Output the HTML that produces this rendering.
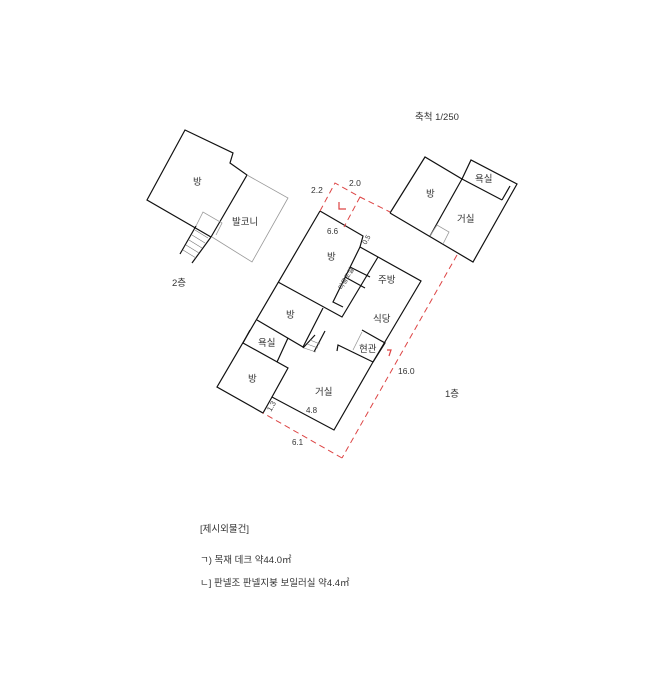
<!DOCTYPE html>
<html><head><meta charset="utf-8"><style>
html,body{margin:0;padding:0;background:#fff;}
svg{display:block;}
text{font-family:"Liberation Sans","Noto Sans CJK KR",sans-serif;fill:#333;}
</style></head><body>
<svg width="663" height="700" viewBox="0 0 663 700" xmlns="http://www.w3.org/2000/svg">
<g fill="none" stroke="#111" stroke-width="1.2">
<!-- 2F building -->
<polyline points="211,237 147,200 185,130 233,153 230,163 247,175 211,237"/>
<polyline points="247,175 288,198 252,262 212,237" stroke="#999" stroke-width="0.8"/>
<polyline points="196,226 203,212 222,223 216,235" stroke="#999" stroke-width="0.8"/>
<line x1="196" y1="226" x2="180" y2="254"/>
<line x1="211" y1="237" x2="192" y2="263"/>
<g stroke-width="0.6" stroke="#777">
<line x1="195" y1="230" x2="208" y2="238"/><line x1="192" y1="235" x2="205" y2="243"/><line x1="189" y1="240" x2="202" y2="248"/><line x1="186" y1="245" x2="199" y2="253"/><line x1="183" y1="250" x2="196" y2="258"/>
</g>
<!-- top right building -->
<polyline points="390,213 425,157 462,179 471,160 517,184 473,262 390,213"/>
<line x1="462" y1="179" x2="430" y2="236"/>
<line x1="462" y1="179" x2="502" y2="200"/>
<line x1="502" y1="200" x2="510" y2="186"/>
<polyline points="430,236 437,225 449,232 443,244" stroke="#999" stroke-width="0.8"/>
<!-- main 1F -->
<polyline points="320,211 363,236 360,247 378,257 421,281 373,362 334,430 272,397 263,413 217,387 320,211"/>
<polyline points="378,257 342,317 278,282"/>
<polyline points="360,247 333,302 343,307"/>
<line x1="350" y1="267" x2="370" y2="277"/>
<line x1="345" y1="277" x2="365" y2="288"/>
<polyline points="323,308 303,347 257,320"/>
<polyline points="243,343 288,368 272,397"/>
<line x1="243" y1="343" x2="250" y2="330"/>
<line x1="288" y1="338" x2="277" y2="362"/>
<polyline points="337,351 338,345 373,362"/>
<polyline points="362,330 385,343 373,362"/>
<line x1="362" y1="332" x2="353" y2="350" stroke="#999" stroke-width="0.8"/>
<!-- stair middle -->
<line x1="325" y1="331" x2="314" y2="352"/>
<line x1="315" y1="335" x2="303" y2="348"/>
<g stroke-width="0.6" stroke="#777">
<line x1="310" y1="340" x2="320" y2="344"/><line x1="307" y1="344" x2="318" y2="348"/><line x1="304" y1="348" x2="316" y2="352"/>
</g>
</g>
<!-- red dashed -->
<g fill="none" stroke="#d44" stroke-width="1" stroke-dasharray="6,4">
<polyline points="320,211 335,183 360,197 390,212"/>
<line x1="360" y1="197" x2="344" y2="227"/>
<line x1="457" y1="255" x2="342" y2="458"/>
<line x1="342" y1="458" x2="263" y2="413"/>
</g>
<g fill="none" stroke="#d44" stroke-width="1.2">
<polyline points="339,202 339,209 346,209"/>
<polyline points="387,350 391,350 389,356"/>
</g>
<g font-size="9.5">
<text x="415" y="120">축척  1/250</text>
<text x="193" y="185">방</text>
<text x="232" y="225">발코니</text>
<text x="172" y="286">2층</text>
<text x="327" y="260">방</text>
<text x="378" y="283">주방</text>
<text x="373" y="322">식당</text>
<text x="286" y="318">방</text>
<text x="258" y="346">욕실</text>
<text x="359" y="352">현관</text>
<text x="248" y="382">방</text>
<text x="315" y="395">거실</text>
<text x="426" y="197">방</text>
<text x="475" y="182">욕실</text>
<text x="457" y="222">거실</text>
<text x="445" y="397">1층</text>
<text x="398" y="374" font-size="8.5">16.0</text>
<text x="311" y="193" font-size="8.5">2.2</text>
<text x="349" y="186" font-size="8.5">2.0</text>
<text x="327" y="234" font-size="8">6.6</text>
<text x="366" y="245" font-size="7" transform="rotate(-60 366 245)">0.5</text>
<text x="342" y="290" font-size="6.5" transform="rotate(-60 342 290)">다용도실</text>
<text x="306" y="413" font-size="8">4.8</text>
<text x="271" y="412" font-size="7.5" transform="rotate(-60 271 412)">1.3</text>
<text x="292" y="445" font-size="8">6.1</text>
<text x="200" y="532">[제시외물건]</text>
<text x="200" y="563">ㄱ) 목재 데크 약44.0㎡</text>
<text x="200" y="586">ㄴ] 판넬조 판넬지붕 보일러실 약4.4㎡</text>
</g>
</svg>
</body></html>
